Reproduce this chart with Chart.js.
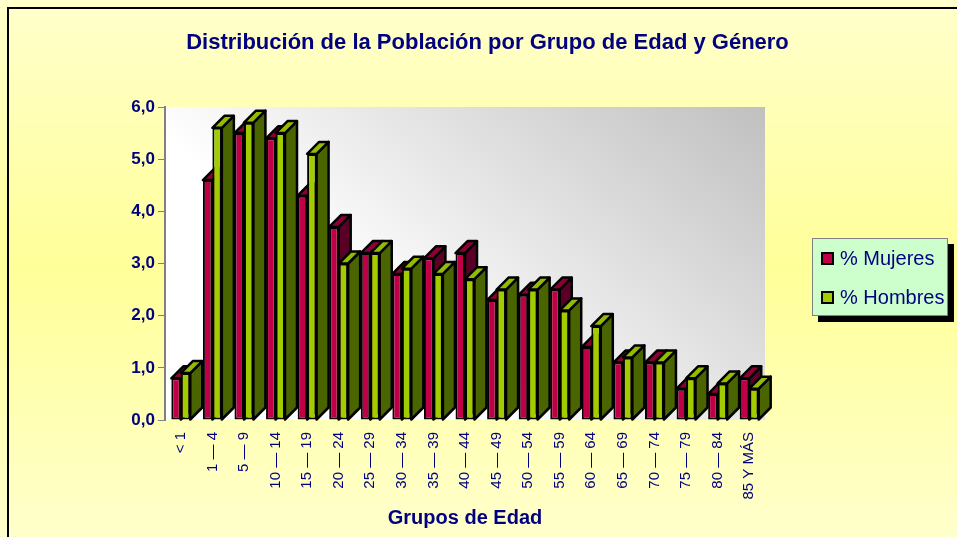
<!DOCTYPE html>
<html>
<head>
<meta charset="utf-8">
<script src="https://cdn.jsdelivr.net/npm/chart.js@4.4.0/dist/chart.umd.min.js"></script>
<style>
  body { margin: 0; background: #ffffcc; }
  #wrap { position: relative; width: 957px; height: 537px; overflow: hidden; font-family: Arial, "Liberation Sans", sans-serif; }
  canvas { position: absolute; left: 0; top: 0; }
  #titulo { position: absolute; left: 0; top: 29px; width: 975px; text-align: center; font-weight: bold; font-size: 22px; line-height: 25px; color: #000080; }
  #leyenda { position: absolute; left: 812px; top: 238px; width: 134px; height: 76px; background: #ccffcc; border: 1px solid #808080; box-shadow: 6px 6px 0 #000; }
  .item { position: absolute; left: 8px; height: 24px; line-height: 24px; font-size: 20px; color: #000080; white-space: nowrap; }
  .item span { display: inline-block; width: 9px; height: 9px; border: 2px solid #000; margin-right: 6px; vertical-align: 0px; }
</style>
</head>
<body>
<div id="wrap">
  <canvas id="grafico" width="957" height="537"></canvas>
  <div id="titulo">Distribución de la Población por Grupo de Edad y Género</div>
  <div id="leyenda">
    <div class="item" style="top:7px"><span style="background:#bf0047"></span>% Mujeres</div>
    <div class="item" style="top:46px"><span style="background:#a0cc00"></span>% Hombres</div>
  </div>
</div>
<script>
// datos
const grupos = ['< 1', '1 — 4', '5 — 9', '10 — 14', '15 — 19', '20 — 24', '25 — 29', '30 — 34', '35 — 39',
  '40 — 44', '45 — 49', '50 — 54', '55 — 59', '60 — 64', '65 — 69', '70 — 74', '75 — 79', '80 — 84', '85 Y MÁS'];
const mujeres = [0.8, 4.6, 5.5, 5.4, 4.3, 3.7, 3.2, 2.8, 3.1, 3.2, 2.3, 2.4, 2.5, 1.4, 1.1, 1.1, 0.6, 0.5, 0.8];
const hombres = [0.9, 5.6, 5.7, 5.5, 5.1, 3.0, 3.2, 2.9, 2.8, 2.7, 2.5, 2.5, 2.1, 1.8, 1.2, 1.1, 0.8, 0.7, 0.6];
const yMin = 0, yMax = 6, yPaso = 1;

const navy = '#000080';
const D = 12; // profundidad 3D
const colFrente = ['#bf0047', '#a0cc00'];
const colTapa = ['#8c0036', '#94bb00'];
const colLado = ['#5a0026', '#4a6400'];

function poly(ctx, pts, fill) {
  ctx.beginPath();
  ctx.moveTo(pts[0][0], pts[0][1]);
  for (let i = 1; i < pts.length; i++) ctx.lineTo(pts[i][0], pts[i][1]);
  ctx.closePath();
  ctx.fillStyle = fill;
  ctx.fill();
  ctx.stroke();
}

const fondo3d = {
  id: 'fondo3d',
  beforeDraw(chart) {
    const { ctx, width, height, chartArea: a } = chart;
    ctx.save();
    const g = ctx.createLinearGradient(0, 0, 0, height);
    g.addColorStop(0, '#ffffcc');
    g.addColorStop(0.5, '#ffff99');
    g.addColorStop(1, '#ffffcc');
    ctx.fillStyle = g;
    ctx.fillRect(0, 0, width, height);
    const w = ctx.createLinearGradient(a.right, a.top, a.right - 265, a.bottom);
    w.addColorStop(0, '#c0c0c0');
    w.addColorStop(1, '#ffffff');
    ctx.fillStyle = w;
    ctx.fillRect(a.left, a.top, a.right - a.left, a.bottom - a.top);
    ctx.strokeStyle = '#000';
    ctx.lineWidth = 2;
    ctx.beginPath();
    ctx.moveTo(8, height);
    ctx.lineTo(8, 8);
    ctx.lineTo(width, 8);
    ctx.stroke();
    ctx.restore();
  },
  beforeDatasetsDraw(chart) {
    // caras superior y lateral, el frente lo dibuja Chart.js encima
    const ctx = chart.ctx;
    const metas = chart.getSortedVisibleDatasetMetas();
    ctx.save();
    ctx.lineWidth = 2.5;
    ctx.strokeStyle = '#000';
    ctx.lineJoin = 'round';
    for (let i = 0; i < grupos.length; i++) {
      metas.forEach((m, k) => {
        const b = m.data[i];
        const l = b.x - b.width / 2, r = b.x + b.width / 2;
        const t = b.y, base = b.base;
        poly(ctx, [[r, t], [r + D, t - D], [r + D, base - D], [r, base]], colLado[k]);
        poly(ctx, [[l, t], [r, t], [r + D, t - D], [l + D, t - D]], colTapa[k]);
      });
    }
    ctx.restore();
  }
};

new Chart(document.getElementById('grafico'), {
  type: 'bar',
  data: {
    labels: grupos,
    datasets: [
      { label: '% Mujeres', data: mujeres, backgroundColor: colFrente[0] },
      { label: '% Hombres', data: hombres, backgroundColor: colFrente[1] }
    ]
  },
  options: {
    responsive: false,
    animation: false,
    devicePixelRatio: 1,
    layout: { padding: { left: 20, right: 192, top: 107, bottom: 0 } },
    datasets: {
      bar: { borderColor: '#000', borderWidth: 2, borderSkipped: false, categoryPercentage: 0.6, barPercentage: 1 }
    },
    plugins: { legend: { display: false }, tooltip: { enabled: false } },
    scales: {
      x: {
        afterFit(s) { s.height = 117; },
        grid: { display: false },
        border: { display: false },
        ticks: { autoSkip: false, minRotation: 90, maxRotation: 90, padding: 4, color: navy, font: { family: 'Arial', size: 15 } },
        title: { display: true, text: 'Grupos de Edad', color: navy, font: { family: 'Arial', size: 20, weight: 'bold' }, padding: { top: 0, bottom: 7 } }
      },
      y: {
        min: yMin,
        max: yMax,
        afterFit(s) { s.width = 145; },
        grid: { drawOnChartArea: false, drawTicks: true, tickLength: 7, color: '#808080' },
        border: { display: true, color: '#808080', width: 2 },
        ticks: {
          stepSize: yPaso,
          padding: 3,
          color: navy,
          font: { family: 'Arial', size: 17, weight: 'bold' },
          callback: v => v.toFixed(1).replace('.', ',')
        }
      }
    }
  },
  plugins: [fondo3d]
});
</script>
</body>
</html>
